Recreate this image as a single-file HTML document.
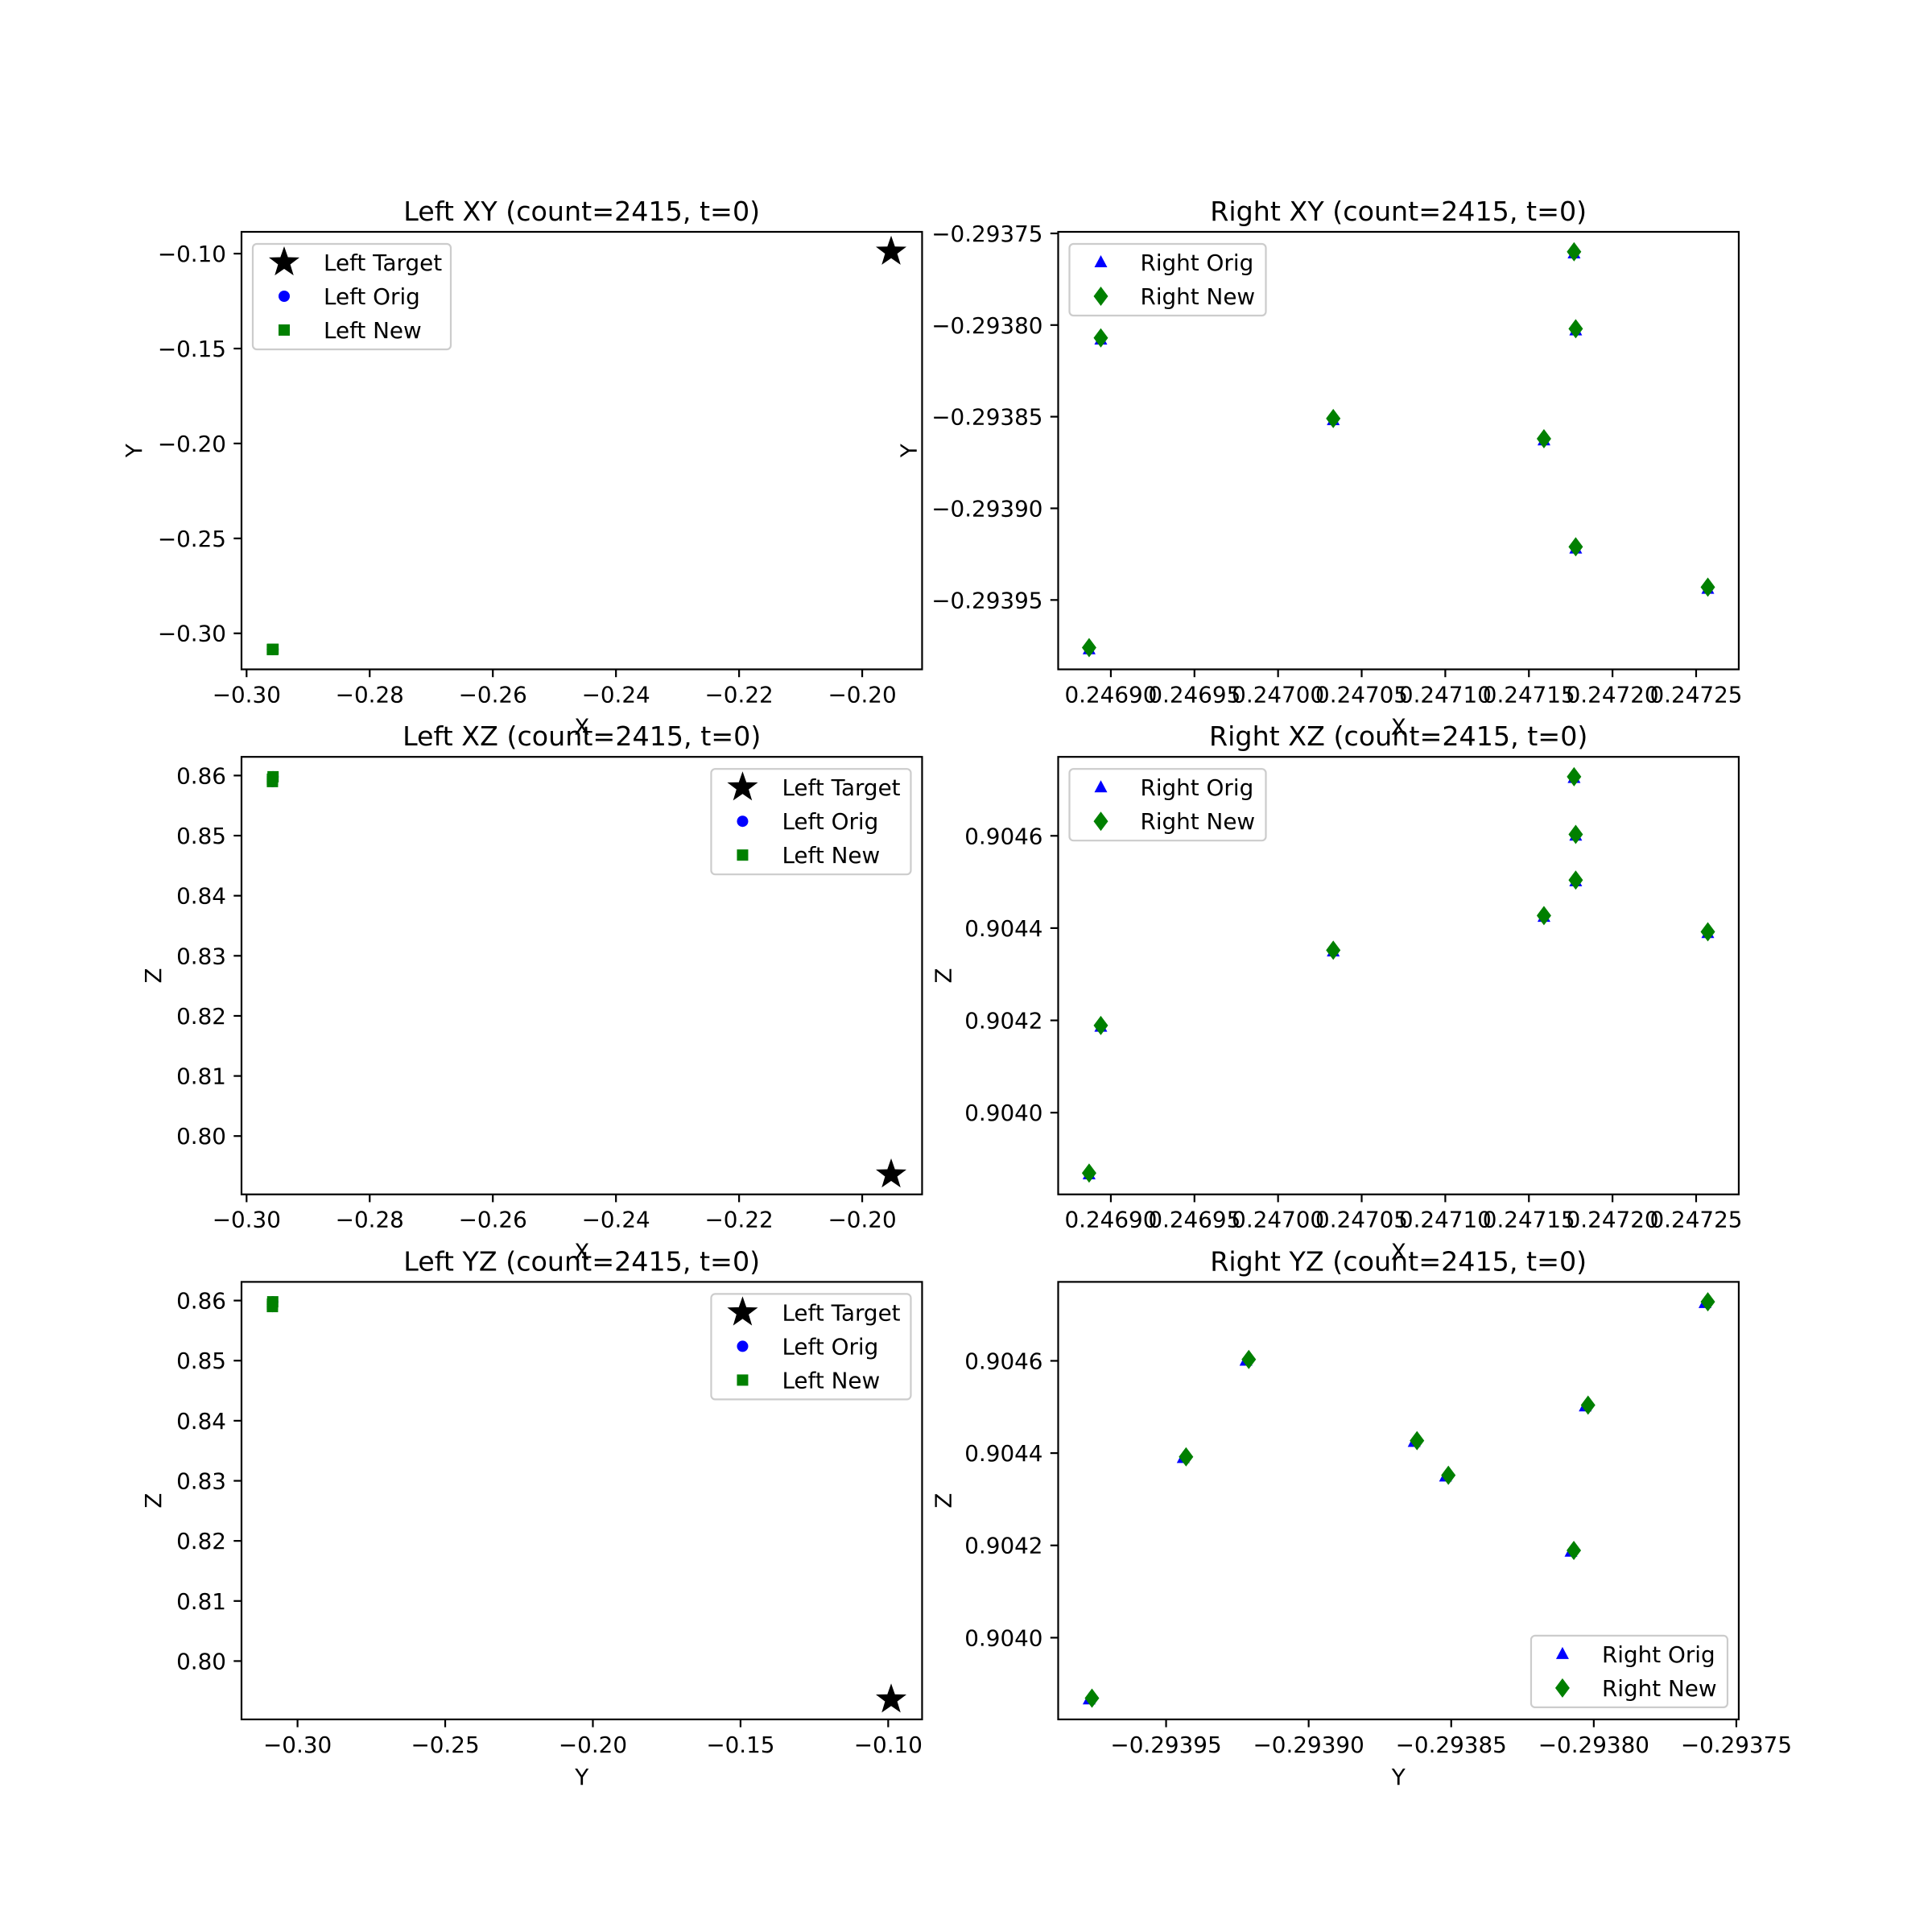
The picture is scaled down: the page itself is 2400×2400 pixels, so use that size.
<!DOCTYPE html>
<html><head><meta charset="utf-8"><style>
html,body{margin:0;padding:0;background:#fff}
svg{display:block}
text{font-family:"DejaVu Sans","Liberation Sans",sans-serif;fill:#000}
</style></head><body>
<svg id="fig" width="2400" height="2400" viewBox="0 0 2400 2400" xmlns="http://www.w3.org/2000/svg"></svg>
<script>
// Left data
const leftTargetX = [-0.1953];
const leftTargetY = [-0.0990];
const leftTargetZ = [0.7936];
const leftOrigX = [-0.2958, -0.2958, -0.2957];
const leftOrigY = [-0.3085, -0.3085, -0.3084];
const leftOrigZ = [0.8590, 0.8594, 0.8598];
const leftNewX = [-0.2958, -0.2958, -0.2957];
const leftNewY = [-0.3085, -0.3085, -0.3084];
const leftNewZ = [0.8590, 0.8594, 0.8598];
// Right data
const rightOrigX = [0.246887, 0.246894, 0.247033, 0.247159, 0.247177, 0.247178, 0.247178, 0.247257];
const rightOrigY = [-0.293977, -0.293808, -0.293852, -0.293863, -0.293761, -0.293803, -0.293922, -0.293944];
const rightOrigZ = [0.903866, 0.904186, 0.904349, 0.904424, 0.904725, 0.904501, 0.904600, 0.904389];
const rightNewX = [0.246887, 0.246894, 0.247033, 0.247159, 0.247177, 0.247178, 0.247178, 0.247257];
const rightNewY = [-0.293976, -0.293807, -0.293851, -0.293862, -0.293760, -0.293802, -0.293921, -0.293943];
const rightNewZ = [0.903869, 0.904189, 0.904352, 0.904427, 0.904728, 0.904504, 0.904603, 0.904392];
// Tick values
const leftXTicks = [-0.30, -0.28, -0.26, -0.24, -0.22, -0.20];
const leftXTickLabels = ["−0.30","−0.28","−0.26","−0.24","−0.22","−0.20"];
const leftYTicks = [-0.30, -0.25, -0.20, -0.15, -0.10];
const leftYTickLabels = ["−0.30","−0.25","−0.20","−0.15","−0.10"];
const leftZTicks = [0.80, 0.81, 0.82, 0.83, 0.84, 0.85, 0.86];
const leftZTickLabels = ["0.80","0.81","0.82","0.83","0.84","0.85","0.86"];
const rightXTicks = [0.24690, 0.24695, 0.24700, 0.24705, 0.24710, 0.24715, 0.24720, 0.24725];
const rightXTickLabels = ["0.24690","0.24695","0.24700","0.24705","0.24710","0.24715","0.24720","0.24725"];
const rightYTicks = [-0.29395, -0.29390, -0.29385, -0.29380, -0.29375];
const rightYTickLabels = ["−0.29395","−0.29390","−0.29385","−0.29380","−0.29375"];
const rightZTicks = [0.9040, 0.9042, 0.9044, 0.9046];
const rightZTickLabels = ["0.9040","0.9042","0.9044","0.9046"];

const NS = "http://www.w3.org/2000/svg";
const fig = document.getElementById('fig');
function mk(tag, attrs, parent){const e=document.createElementNS(NS,tag);for(const k in attrs)e.setAttribute(k,attrs[k]);(parent||fig).appendChild(e);return e;}
function lim(arrs){let mn=Infinity,mx=-Infinity;arrs.forEach(a=>a.forEach(v=>{mn=Math.min(mn,v);mx=Math.max(mx,v);}));const m=(mx-mn)*0.05;return [mn-m,mx+m];}

const AW=845.45, AH=543.5;
const colX=[300,1314.5], rowY=[288,940.2,1592.4];
const FS=27.8, TFS=33.3, LW=2.2;

function marker(g,type,cx,cy){
  let e;
  if(type==='star'){
    const R=20,r=8;let p=[];
    for(let i=0;i<10;i++){const a=-Math.PI/2+i*Math.PI/5;const rr=i%2?r:R;p.push((cx+rr*Math.cos(a)).toFixed(2)+','+(cy+rr*Math.sin(a)).toFixed(2));}
    e=mk('polygon',{points:p.join(' '),fill:'#000'},g);
  } else if(type==='circle'){
    e=mk('circle',{cx:cx,cy:cy,r:7,fill:'#0000ff'},g);
  } else if(type==='square'){
    e=mk('rect',{x:cx-7,y:cy-7,width:14,height:14,fill:'#008000'},g);
  } else if(type==='tri'){
    e=mk('polygon',{points:`${cx},${cy-9} ${cx+8},${cy+6} ${cx-8},${cy+6}`,fill:'#0000ff'},g);
  } else if(type==='diamond'){
    e=mk('polygon',{points:`${cx},${cy-12} ${cx+9},${cy} ${cx},${cy+12} ${cx-9},${cy}`,fill:'#008000'},g);
  }
  return e;
}

function panel(o){
  const x0=colX[o.col], y0=rowY[o.row];
  const g=mk('g',{});
  
  
  const xl=lim(o.series.map(s=>s.x)), yl=lim(o.series.map(s=>s.y));
  const sx=v=>x0+(v-xl[0])/(xl[1]-xl[0])*AW;
  const sy=v=>y0+AH-(v-yl[0])/(yl[1]-yl[0])*AH;
  o.series.forEach(s=>{
    const sg=mk('g',{},g);
    
    
    for(let i=0;i<s.x.length;i++){
      const m=marker(sg,s.type,sx(s.x[i]),sy(s.y[i]));
      
      
    }
  });
  const fr=mk('rect',{x:x0,y:y0,width:AW,height:AH,fill:'none',stroke:'#000','stroke-width':LW},g);
  
  
  o.xt.forEach((v,i)=>{
    const X=sx(v);
    mk('line',{x1:X,x2:X,y1:y0+AH,y2:y0+AH+9.7,stroke:'#000','stroke-width':LW},g);
    const t=mk('text',{x:X,y:y0+AH+41,'font-size':FS,'text-anchor':'middle'},g);
    t.textContent=o.xtl[i];
    
    
  });
  o.yt.forEach((v,i)=>{
    const Y=sy(v);
    mk('line',{x1:x0,x2:x0-9.7,y1:Y,y2:Y,stroke:'#000','stroke-width':LW},g);
    const t=mk('text',{x:x0-19,y:Y+10,'font-size':FS,'text-anchor':'end'},g);
    t.textContent=o.ytl[i];
    
    
  });
  const ti=mk('text',{x:x0+AW/2,y:y0-14,'font-size':TFS,'text-anchor':'middle'},g);
  ti.textContent=o.title;
  
  
  const xlab=mk('text',{x:x0+AW/2,y:y0+AH+81,'font-size':FS,'text-anchor':'middle'},g);
  xlab.textContent=o.xlab;
  
  
  const ylx=x0-o.ylabOff;
  const ylab=mk('text',{x:ylx,y:y0+AH/2,'font-size':FS,'text-anchor':'middle',transform:`rotate(-90 ${ylx} ${y0+AH/2})`},g);
  ylab.textContent=o.ylab;
  
  
  const n=o.series.length, lw=o.legW, lh=n*42+5;
  let lx,ly;
  if(o.leg==='ul'){lx=x0+14;ly=y0+15;}
  else if(o.leg==='ur'){lx=x0+AW-14-lw;ly=y0+15;}
  else {lx=x0+AW-14-lw;ly=y0+AH-15-lh;}
  const lg=mk('g',{},g);
  
  
  mk('rect',{x:lx,y:ly,width:lw,height:lh,rx:5,fill:'#fff','fill-opacity':0.8,stroke:'#cccccc','stroke-width':LW},lg);
  o.series.forEach((s,i)=>{
    const cy=ly+23+i*42;
    const eg=mk('g',{},lg);
    
    
    marker(eg,s.type,lx+39,cy);
    const t=mk('text',{x:lx+88,y:cy+10,'font-size':FS},eg);
    t.textContent=s.label;
  });
}

const LT={label:'Left Target',type:'star'}, LO={label:'Left Orig',type:'circle'}, LN={label:'Left New',type:'square'};
const RO={label:'Right Orig',type:'tri'}, RN={label:'Right New',type:'diamond'};

panel({name:'left-xy-panel',col:0,row:0,title:'Left XY (count=2415, t=0)',xlab:'X',ylab:'Y',ylabOff:124,leg:'ul',legW:246,
  series:[{...LT,x:leftTargetX,y:leftTargetY},{...LO,x:leftOrigX,y:leftOrigY},{...LN,x:leftNewX,y:leftNewY}],
  xt:leftXTicks,xtl:leftXTickLabels,yt:leftYTicks,ytl:leftYTickLabels});
panel({name:'left-xz-panel',col:0,row:1,title:'Left XZ (count=2415, t=0)',xlab:'X',ylab:'Z',ylabOff:100,leg:'ur',legW:248,
  series:[{...LT,x:leftTargetX,y:leftTargetZ},{...LO,x:leftOrigX,y:leftOrigZ},{...LN,x:leftNewX,y:leftNewZ}],
  xt:leftXTicks,xtl:leftXTickLabels,yt:leftZTicks,ytl:leftZTickLabels});
panel({name:'left-yz-panel',col:0,row:2,title:'Left YZ (count=2415, t=0)',xlab:'Y',ylab:'Z',ylabOff:100,leg:'ur',legW:248,
  series:[{...LT,x:leftTargetY,y:leftTargetZ},{...LO,x:leftOrigY,y:leftOrigZ},{...LN,x:leftNewY,y:leftNewZ}],
  xt:leftYTicks,xtl:leftYTickLabels,yt:leftZTicks,ytl:leftZTickLabels});
panel({name:'right-xy-panel',col:1,row:0,title:'Right XY (count=2415, t=0)',xlab:'X',ylab:'Y',ylabOff:176,leg:'ul',legW:244,
  series:[{...RO,x:rightOrigX,y:rightOrigY},{...RN,x:rightNewX,y:rightNewY}],
  xt:rightXTicks,xtl:rightXTickLabels,yt:rightYTicks,ytl:rightYTickLabels});
panel({name:'right-xz-panel',col:1,row:1,title:'Right XZ (count=2415, t=0)',xlab:'X',ylab:'Z',ylabOff:133,leg:'ul',legW:244,
  series:[{...RO,x:rightOrigX,y:rightOrigZ},{...RN,x:rightNewX,y:rightNewZ}],
  xt:rightXTicks,xtl:rightXTickLabels,yt:rightZTicks,ytl:rightZTickLabels});
panel({name:'right-yz-panel',col:1,row:2,title:'Right YZ (count=2415, t=0)',xlab:'Y',ylab:'Z',ylabOff:133,leg:'lr',legW:244,
  series:[{...RO,x:rightOrigY,y:rightOrigZ},{...RN,x:rightNewY,y:rightNewZ}],
  xt:rightYTicks,xtl:rightYTickLabels,yt:rightZTicks,ytl:rightZTickLabels});
</script>
</body></html>
